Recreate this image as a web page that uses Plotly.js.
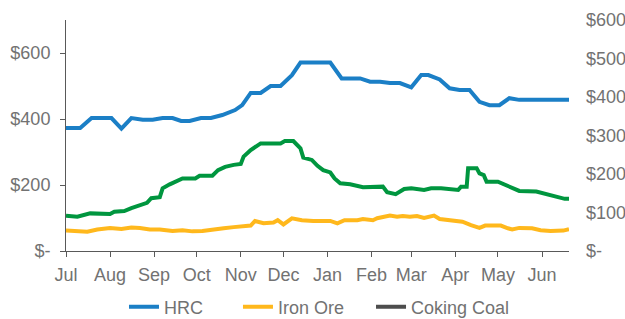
<!DOCTYPE html>
<html>
<head>
<meta charset="utf-8">
<script src="https://cdn.plot.ly/plotly-3.0.1.min.js"></script>
<style>html,body{margin:0;padding:0;background:#fff;}#chart{width:625px;height:319px;}</style>
</head>
<body>
<div id="chart"></div>
<script>
// HRC ($, left axis)
const hrcDates = ['2020-07-01','2020-07-11','2020-07-19','2020-08-02','2020-08-09','2020-08-16','2020-08-24','2020-08-31','2020-09-07','2020-09-14','2020-09-20','2020-09-26','2020-10-04','2020-10-11','2020-10-19','2020-10-28','2020-11-02','2020-11-08','2020-11-15','2020-11-22','2020-11-29','2020-12-07','2020-12-13','2021-01-03','2021-01-11','2021-01-24','2021-01-31','2021-02-07','2021-02-14','2021-02-21','2021-03-01','2021-03-08','2021-03-13','2021-03-21','2021-03-28','2021-04-04','2021-04-11','2021-04-18','2021-04-25','2021-05-02','2021-05-09','2021-05-16','2021-06-20'];
const hrcValues = [373,373,403,403,371,403,398,398,403,403,394,394,403,403,412,427,442,479,479,500,500,533,571,571,523,523,513,513,509,509,496,533,533,520,493,488,488,452,442,442,463,458,458];

// Coking Coal ($, left axis)
const coalDates = ['2020-07-01','2020-07-09','2020-07-18','2020-08-01','2020-08-04','2020-08-11','2020-08-16','2020-08-22','2020-08-27','2020-08-30','2020-09-05','2020-09-07','2020-09-12','2020-09-21','2020-09-30','2020-10-03','2020-10-12','2020-10-16','2020-10-21','2020-10-27','2020-11-01','2020-11-03','2020-11-08','2020-11-15','2020-11-29','2020-12-02','2020-12-08','2020-12-13','2020-12-15','2020-12-21','2020-12-25','2020-12-29','2021-01-03','2021-01-06','2021-01-10','2021-01-17','2021-01-22','2021-01-26','2021-02-09','2021-02-12','2021-02-18','2021-02-24','2021-03-01','2021-03-10','2021-03-15','2021-03-22','2021-04-03','2021-04-05','2021-04-09','2021-04-10','2021-04-16','2021-04-18','2021-04-21','2021-04-23','2021-05-01','2021-05-07','2021-05-11','2021-05-16','2021-05-28','2021-06-04','2021-06-11','2021-06-17','2021-06-20'];
const coalValues = [107,104,114,112,119,121,130,139,146,160,163,190,202,220,220,228,228,245,255,261,264,286,306,326,326,333,333,311,283,276,258,245,238,220,205,202,198,193,195,178,172,188,190,185,190,190,185,195,195,251,251,235,230,210,210,198,192,182,180,172,165,158,158];

// Iron Ore ($, right axis)
const oreDates = ['2020-07-01','2020-07-16','2020-07-23','2020-08-01','2020-08-09','2020-08-16','2020-08-22','2020-08-29','2020-09-05','2020-09-14','2020-09-21','2020-09-28','2020-10-05','2020-10-13','2020-10-20','2020-10-27','2020-11-08','2020-11-11','2020-11-17','2020-11-24','2020-11-27','2020-12-01','2020-12-07','2020-12-14','2020-12-22','2021-01-03','2021-01-08','2021-01-13','2021-01-22','2021-01-26','2021-02-02','2021-02-05','2021-02-14','2021-02-19','2021-02-23','2021-02-28','2021-03-05','2021-03-10','2021-03-17','2021-03-21','2021-03-28','2021-04-06','2021-04-12','2021-04-18','2021-04-22','2021-05-03','2021-05-08','2021-05-11','2021-05-16','2021-05-25','2021-05-31','2021-06-07','2021-06-16','2021-06-20'];
const oreValues = [53,50,56,60,57,61,60,56,56,52,54,51,52,57,59,62,66,78,72,74,80,69,85,80,78,78,72,80,80,83,80,85,92,89,91,89,91,86,92,83,79,76,67,60,66,66,59,56,60,59,54,52,53,57];

const leftTickVals = [0,200,400,600];
const leftTickText = ['$-','$200','$400','$600'];
const rightTickVals = [0,100,200,300,400,500,600];
const rightTickText = ['$-','$100','$200','$300','$400','$500','$600'];

const FONT = 'Liberation Sans, Arial, sans-serif';
const GREY = '#727272';

const traces = [
  {x: hrcDates, y: hrcValues, name: 'HRC', type: 'scatter', mode: 'lines',
   line: {color: '#1b7fc6', width: 4}, yaxis: 'y', legend: 'legend'},
  {x: oreDates, y: oreValues, name: 'Iron Ore', type: 'scatter', mode: 'lines',
   line: {color: '#ffb81c', width: 4}, yaxis: 'y2', legend: 'legend2'},
  {x: coalDates, y: coalValues, name: 'Coking Coal', type: 'scatter', mode: 'lines',
   line: {color: '#00963f', width: 4}, yaxis: 'y', showlegend: false},
  {x: [null], y: [null], name: 'Coking Coal', type: 'scatter', mode: 'lines',
   line: {color: '#4d4d4d', width: 4}, yaxis: 'y', hoverinfo: 'skip', legend: 'legend3'}
];

function leg(x) {
  return {orientation: 'h', x: x, xanchor: 'left', y: -0.2424, yanchor: 'middle',
          bgcolor: 'rgba(0,0,0,0)', font: {family: FONT, size: 18, color: GREY}};
}

const layout = {
  width: 625, height: 319,
  margin: {l: 66, r: 56, t: 20, b: 68, autoexpand: false},
  paper_bgcolor: '#fff', plot_bgcolor: '#fff',
  font: {family: FONT, size: 18, color: GREY},
  showlegend: true,
  legend: leg(0.1153),
  legend2: leg(0.3419),
  legend3: leg(0.6064),
  xaxis: {type: 'date', range: ['2020-07-01', '2021-06-20'], dtick: 'M1', tick0: '2020-07-01',
          tickformat: '%b', showgrid: false, zeroline: false, showline: true, automargin: false,
          linecolor: '#595959', linewidth: 1, ticks: 'outside', ticklen: 5, tickcolor: '#595959',
          tickfont: {family: FONT, size: 18, color: GREY}, ticklabelstandoff: 2},
  yaxis: {range: [0, 700], tickvals: leftTickVals, ticktext: leftTickText, showgrid: false,
          zeroline: false, showline: true, linecolor: '#595959', linewidth: 1, automargin: false,
          ticks: 'outside', ticklen: 5, tickcolor: '#595959',
          tickfont: {family: FONT, size: 18, color: GREY}, ticklabelstandoff: 6},
  yaxis2: {range: [0, 600], overlaying: 'y', side: 'right', tickvals: rightTickVals, automargin: false,
           ticktext: rightTickText, showgrid: false, zeroline: false, showline: false,
           ticks: '', tickfont: {family: FONT, size: 18, color: GREY}, ticklabelstandoff: 16}
};

Plotly.newPlot('chart', traces, layout, {displayModeBar: false, staticPlot: true});
</script>
</body>
</html>
